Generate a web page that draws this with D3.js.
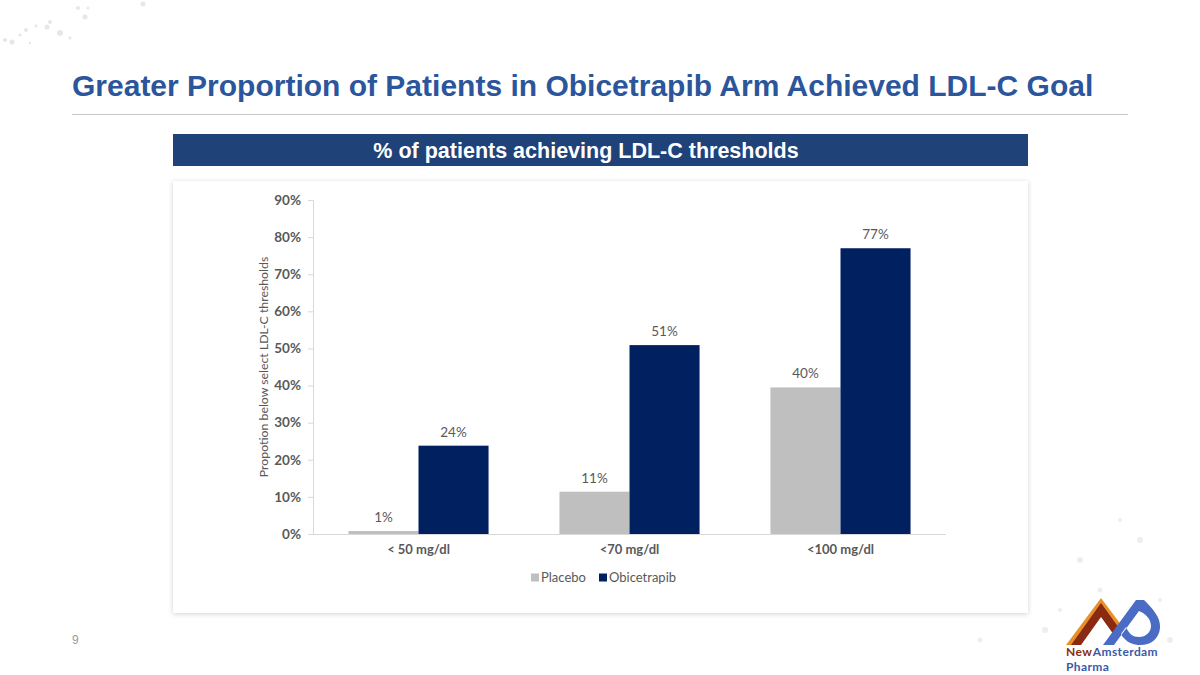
<!DOCTYPE html>
<html><head><meta charset="utf-8">
<script src="https://cdn.jsdelivr.net/npm/d3@7"></script>
<style>body{margin:0;background:#fff;}svg{display:block;}</style>
</head><body>
<svg id="c" width="1200" height="675"></svg>
<script>
const categories = ["< 50 mg/dl", "<70 mg/dl", "<100 mg/dl"];
const seriesNames = ["Placebo", "Obicetrapib"];
const placebo = [0.8, 11.4, 39.5];
const obicetrapib = [23.8, 50.9, 77.0];
const placeboLabels = ["1%", "11%", "40%"];
const obicetrapibLabels = ["24%", "51%", "77%"];
const yTicks = [0, 10, 20, 30, 40, 50, 60, 70, 80, 90];
const colors = ["#bfbfbf", "#002060"];
const title = "Greater Proportion of Patients in Obicetrapib Arm Achieved LDL-C Goal";
const subtitle = "% of patients achieving LDL-C thresholds";
const yTitle = "Propotion below select LDL-C thresholds";

const svg = d3.select("#c");
const defs = svg.append("defs");
const f = defs.append("filter").attr("id","sh").attr("x","-5%").attr("y","-5%").attr("width","110%").attr("height","110%");
f.append("feDropShadow").attr("dx",0).attr("dy",1).attr("stdDeviation",2.5).attr("flood-color","#000").attr("flood-opacity",0.18);

// faint decorative dots
const deco = svg.append("g").attr("fill","#d9dde3");
[[12,42,2.5],[26,30,2],[47,27,2.5],[60,33,3],[50,22,2],[78,8,2],[85,17,2.5],[88,8,1.5],[143,4,2.5],[36,26,1.5],[5,40,2],[20,35,1.5],[30,43,1.2],[70,38,1.5]].forEach(d=>deco.append("circle").attr("cx",d[0]).attr("cy",d[1]).attr("r",d[2]).attr("opacity",0.7));
[[1080,560,3],[1100,590,2.5],[1140,540,3],[1160,600,2],[1045,630,3],[980,640,2.5],[1170,640,3],[1120,520,2],[1060,610,2]].forEach(d=>deco.append("circle").attr("cx",d[0]).attr("cy",d[1]).attr("r",d[2]).attr("opacity",0.5));

// title
svg.append("text").attr("x",72).attr("y",96).attr("font-family","Liberation Sans, Arial, sans-serif")
  .attr("font-weight","bold").attr("font-size",30).attr("fill","#2c569c").text(title);
svg.append("line").attr("x1",72).attr("x2",1128).attr("y1",114.5).attr("y2",114.5).attr("stroke","#c8c8c8").attr("stroke-width",1);

// header bar
svg.append("rect").attr("x",173).attr("y",134).attr("width",855).attr("height",32).attr("fill","#1f4279");
svg.append("text").attr("x",586).attr("y",158).attr("text-anchor","middle").attr("font-family","Liberation Sans, Arial, sans-serif")
  .attr("font-weight","bold").attr("font-size",21.5).attr("fill","#fff").text(subtitle);

// chart panel
svg.append("rect").attr("x",173).attr("y",181).attr("width",855).attr("height",432).attr("fill","#fff").attr("filter","url(#sh)");

// scales
const x0 = d3.scaleBand().domain(categories).range([313, 946]).paddingInner(0.336).paddingOuter(0.168);
const x1 = d3.scaleBand().domain(seriesNames).range([0, x0.bandwidth()]);
const y = d3.scaleLinear().domain([0, 90]).range([534, 200]);

const font = "Lato, 'Open Sans', sans-serif";
// y axis
const yAxis = svg.append("g").attr("transform","translate(313,0)")
  .call(d3.axisLeft(y).tickValues(yTicks).tickFormat(d=>d+"%").tickSize(5).tickPadding(7));
yAxis.select(".domain").attr("stroke","#d9d9d9").attr("d","M-5,200.5H0.5V534.5");
yAxis.selectAll(".tick line").attr("stroke","#d9d9d9");
yAxis.selectAll(".tick text").attr("font-family",font).attr("font-size",13.5).attr("font-weight","bold").attr("fill","#595959");

// x axis baseline
svg.append("line").attr("x1",313).attr("x2",946).attr("y1",534.5).attr("y2",534.5).attr("stroke","#d9d9d9");
const xAxis = svg.append("g").attr("transform","translate(0,534)")
  .call(d3.axisBottom(x0).tickSize(0).tickPadding(11));
xAxis.select(".domain").remove();
xAxis.selectAll(".tick text").attr("font-family",font).attr("font-size",13).attr("font-weight","bold").attr("fill","#595959");

// bars
const series = [placebo, obicetrapib];
const labels = [placeboLabels, obicetrapibLabels];
series.forEach((vals, si) => {
  const g = svg.append("g");
  g.selectAll("rect").data(vals).join("rect")
    .attr("x",(d,i)=>x0(categories[i]) + x1(seriesNames[si]))
    .attr("y",d=>y(d)).attr("width",x1.bandwidth()).attr("height",d=>y(0)-y(d))
    .attr("fill",colors[si]);
  g.selectAll("text").data(vals).join("text")
    .attr("x",(d,i)=>x0(categories[i]) + x1(seriesNames[si]) + x1.bandwidth()/2)
    .attr("y",d=>y(d)-9).attr("text-anchor","middle")
    .attr("font-family",font).attr("font-size",13.5).attr("fill","#595959")
    .text((d,i)=>labels[si][i]);
});

// y title
svg.append("text").attr("transform","translate(268,367) rotate(-90)").attr("text-anchor","middle")
  .attr("font-family",font).attr("font-size",12.3).attr("fill","#595959").text(yTitle);

// legend
const leg = svg.append("g").attr("transform","translate(531,582)");
seriesNames.forEach((s,i)=>{
  const ox = i===0 ? 0 : 68;
  leg.append("rect").attr("x",ox).attr("y",-8.5).attr("width",8).attr("height",8).attr("fill",colors[i]);
  leg.append("text").attr("x",ox+10).attr("y",0).attr("font-family",font).attr("font-size",13).attr("fill","#595959").text(s);
});

// page number
svg.append("text").attr("x",72).attr("y",644).attr("font-family","Liberation Sans, Arial, sans-serif").attr("font-size",12).attr("fill","#9a9a9a").text("9");

// logo
const lg = svg.append("g");
lg.append("path").attr("d","M1066,645 L1101,598 L1122,626 L1117,633 L1101,611 L1077,645 Z").attr("fill","#e8912b");
lg.append("path").attr("d","M1071,645 L1101,603 L1119,628 L1114,635 L1101,617 L1081,645 Z").attr("fill","#8b2a12");
lg.append("path").attr("fill-rule","evenodd").attr("fill","#4a6cc5")
  .attr("d","M1103,645 L1136,600 L1144,600 C1152,608 1161,617 1160,628 C1159,640 1149,646 1138,645 C1130,644 1124,640 1121,634 L1126,627 C1129,634 1133,637 1139,637 C1146,637 1151,632 1151,626 C1151,618 1144,613 1139,611 L1114,645 Z");
const tNew = lg.append("text").attr("x",1066).attr("y",655.5).attr("font-family","Lato, sans-serif").attr("font-size",12).attr("font-weight","bold").attr("letter-spacing",0.4).attr("fill","#8b2a12").text("New");
const wNew = tNew.node().getComputedTextLength();
lg.append("text").attr("x",1066 + wNew + 0.5).attr("y",655.5).attr("font-family","Lato, sans-serif").attr("font-size",12).attr("font-weight","bold").attr("letter-spacing",0.4).attr("fill","#3a5aa8").text("Amsterdam");
lg.append("text").attr("x",1066).attr("y",670.5).attr("font-family","Lato, sans-serif").attr("font-size",12).attr("font-weight","bold").attr("letter-spacing",0.4).attr("fill","#3a5aa8").text("Pharma");
</script>
</body></html>
